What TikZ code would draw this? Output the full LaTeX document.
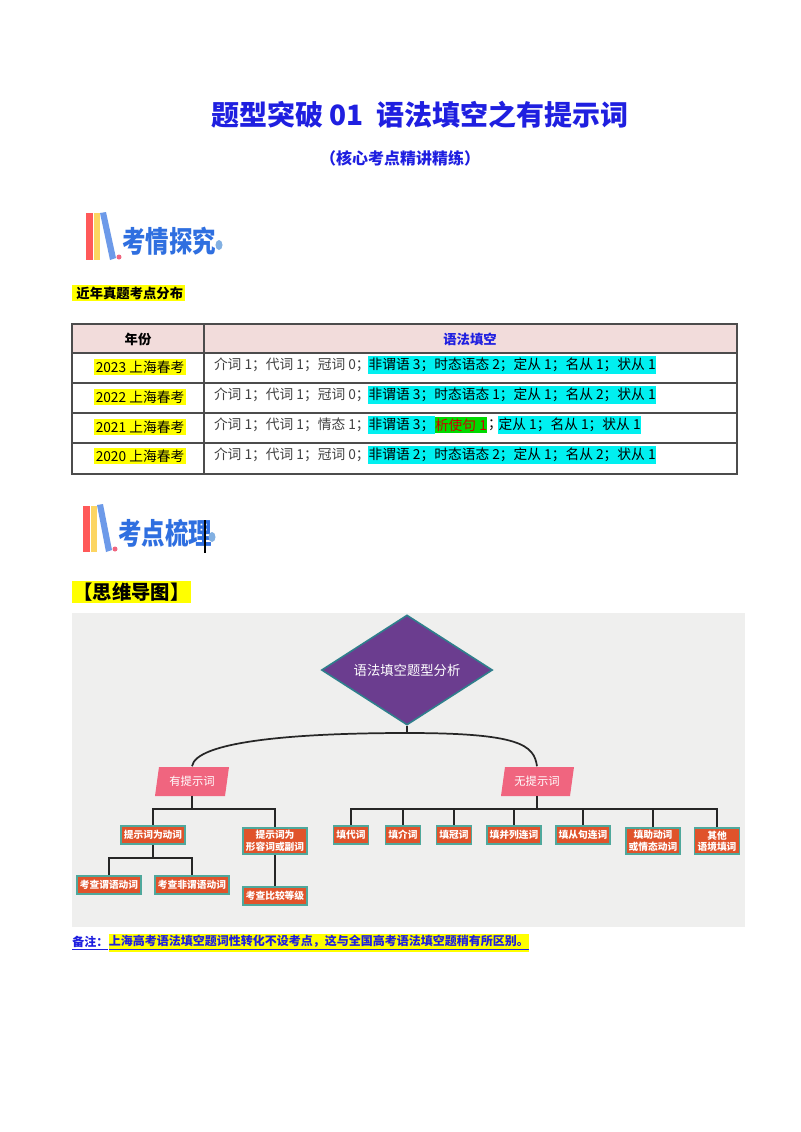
\documentclass[tikz,border=0pt]{standalone}
\usepackage{fontspec}
\setmainfont{Noto Sans CJK SC}
\usetikzlibrary{shapes.geometric}
\definecolor{tblue}{HTML}{1F1FE0}
\definecolor{hcyan}{HTML}{00F0F0}
\definecolor{hyel}{HTML}{FFFF00}
\definecolor{pinkhd}{HTML}{F2DCDB}
\definecolor{mmbg}{HTML}{EFEFEE}
\definecolor{boxor}{HTML}{E0532B}
\definecolor{boxed}{HTML}{4FA89C}
\definecolor{dpurp}{HTML}{6B3D8F}
\definecolor{dedge}{HTML}{2F7F8C}
\definecolor{pinkb}{HTML}{F0657F}
\definecolor{logob}{HTML}{2F6FE0}
\begin{document}
\begin{tikzpicture}[x=0.75pt,y=-0.75pt,
  tx/.style={inner sep=0pt,outer sep=0pt,anchor=west,font=\fontsize{10.3}{12}\selectfont},
  cy/.style={tx,fill=hcyan,inner xsep=0.5pt,inner ysep=1.5pt},
  yr/.style={inner sep=1pt,fill=hyel,font=\fontsize{10.3}{12}\selectfont},
  mb/.style={draw=boxed,line width=1.2pt,fill=boxor,text=white,font=\bfseries\fontsize{7.3}{8.5}\selectfont,align=center,inner sep=2.2pt,minimum height=18pt*0.75},
  pk/.style={text=white,font=\fontsize{8.5}{9}\selectfont,minimum width=62*0.75pt,minimum height=29*0.75pt,inner sep=0pt,
    append after command={\pgfextra{\let\pkn\tikzlastnode}
      \pgfextra{}}},
  ln/.style={line width=1.3pt,black!85}]
\useasboundingbox (0,0) rectangle (800,1132);
\fill[white] (0,0) rectangle (800,1132);
% title
\node[text=tblue,font=\bfseries\fontsize{21}{24}\selectfont] (title) at (420,115) {题型突破 01\ \ 语法填空之有提示词};
\node[text=tblue,font=\bfseries\fontsize{12}{14}\selectfont] (sub) at (400,158) {（核心考点精讲精练）};
% logo 1
\fill[red!65!white] (86,213) rectangle (93,260);
\fill[yellow!50!orange!60] (94,213) rectangle (100,260);
\fill[logob!70] (100,213) -- (106,212) -- (116,258) -- (110,260) -- cycle;
\fill[pinkb] (119,257) circle (2.5);
\node[text=logob,font=\bfseries\fontsize{22}{24}\selectfont,anchor=west,xscale=0.8,inner sep=0pt] (logo1) at (122,241) {考情探究};
\fill[cyan!60!blue!50] (219,245) ellipse (3.5 and 5);
\node[fill=hyel,anchor=west,font=\bfseries\fontsize{10}{12}\selectfont,inner sep=1.5pt] (h1) at (72,293) {\,近年真题考点分布};
% table
\fill[pinkhd] (72,324) rectangle (737,353);
\draw[line width=0.8pt,black!70] (72,324) rectangle (737,474);
\foreach \y in {353,383,413,443} \draw[line width=0.8pt,black!70] (72,\y) -- (737,\y);
\draw[line width=0.8pt,black!70] (204,324) -- (204,474);
\node[font=\bfseries\fontsize{10}{12}\selectfont] (th1) at (138,339) {年份};
\node[text=tblue,font=\bfseries\fontsize{10}{12}\selectfont] (th2) at (470,339) {语法填空};
\node[yr] (y1) at (140,367) {2023 上海春考};
\node[yr] (y2) at (140,397) {2022 上海春考};
\node[yr] (y3) at (140,427) {2021 上海春考};
\node[yr] (y4) at (140,456) {2020 上海春考};
\node[tx,text=black!75] (r1a) at (214,365) {介词 1；代词 1；冠词 0；};
\node[cy,anchor=west] (r1b) at (368,365) {非谓语 3；时态语态 2；定从 1；名从 1；状从 1};
\node[tx,text=black!75] (r2a) at (214,395) {介词 1；代词 1；冠词 0；};
\node[cy] (r2b) at (368,395) {非谓语 3；时态语态 1；定从 1；名从 2；状从 1};
\node[tx,text=black!75] (r3a) at (214,425) {介词 1；代词 1；情态 1；};
\node[cy] (r3b) at (368,425) {非谓语 3；};
\node[tx,fill=green!85!black,text=red!80!black,inner ysep=1.5pt] (r3c) at (435,425) {析使句 1};
\node[tx] (r3d) at ([xshift=1pt]r3c.east) {；};
\node[cy] (r3e) at (498,425) {定从 1；名从 1；状从 1};
\node[tx,text=black!75] (r4a) at (214,455) {介词 1；代词 1；冠词 0；};
\node[cy] (r4b) at (368,455) {非谓语 2；时态语态 2；定从 1；名从 2；状从 1};
% logo 2
\fill[red!65!white] (83,506) rectangle (90,552);
\fill[yellow!50!orange!60] (91,506) rectangle (97,552);
\fill[logob!70] (97,505) -- (103,504) -- (112,550) -- (106,552) -- cycle;
\fill[pinkb] (115,549) circle (2.5);
\node[text=logob,font=\bfseries\fontsize{22}{24}\selectfont,anchor=west,xscale=0.8,inner sep=0pt] (logo2) at (118,533) {考点梳理};
\draw[line width=0.8pt,black] (205,520) -- (205,553);
\fill[cyan!60!blue!50] (212,537) ellipse (3.5 and 5);
\node[fill=hyel,anchor=west,font=\bfseries\fontsize{14.5}{16}\selectfont,inner sep=1pt] (h2) at (72,592) {【思维导图】};
% mind map
\fill[mmbg] (72,613) rectangle (745,927);
\node[diamond,fill=dpurp,draw=dedge,line width=1.2pt,minimum width=171*0.75pt,minimum height=110*0.75pt,inner sep=0pt,aspect=1.55,text=white,font=\fontsize{10}{12}\selectfont] (root) at (407,670) {语法填空题型分析};
\fill[pinkb] (159,767) -- (229,767) -- (225,796) -- (155,796) -- cycle;
\fill[pinkb] (505,767) -- (574,767) -- (570,796) -- (501,796) -- cycle;
\node[pk] (L) at (192,781) {有提示词};
\node[pk] (R) at (537,781) {无提示词};
\coordinate (top) at (407,733);
\draw[ln] (root.south) -- (top);
\draw[ln] (L.north) .. controls (196,742) and (290,733) .. (top) .. controls (520,733) and (534,745) .. (R.north);
% left branch
\node[mb] (a1) at (153,835) {提示词为动词};
\node[mb] (a2) at (275,841) {提示词为\\形容词或副词};
\node[mb] (b1) at (109,885) {考查谓语动词};
\node[mb] (b2) at (192,885) {考查非谓语动词};
\node[mb] (b3) at (275,896) {考查比较等级};
\draw[ln] (L.south) -- (192,809) -| (a1.north);
\draw[ln] (192,809) -| (a2.north);
\draw[ln] (a1.south) -- (153,858) -| (b1.north);
\draw[ln] (153,858) -| (b2.north);
\draw[ln] (a2.south) -- (b3.north);
% right branch
\node[mb] (c1) at (351,835) {填代词};
\node[mb] (c2) at (403,835) {填介词};
\node[mb] (c3) at (454,835) {填冠词};
\node[mb] (c4) at (514,835) {填并列连词};
\node[mb] (c5) at (583,835) {填从句连词};
\node[mb] (c6) at (653,841) {填助动词\\或情态动词};
\node[mb] (c7) at (717,841) {其他\\语境填词};
\draw[ln] (R.south) -- (537,809);
\draw[ln] (c1.north) |- (c7.north |- 0,809) -- (c7.north);
\foreach \n in {c2,c3,c4,c5,c6} \draw[ln] (\n.north |- 0,809) -- (\n.north);
% note
\node[anchor=west,inner sep=0pt,text=tblue,font=\bfseries\fontsize{9}{11}\selectfont] (n1) at (72,943) {\underline{备注：}};
\node[anchor=west,inner xsep=0pt,inner ysep=1pt,fill=hyel,text=tblue,font=\bfseries\fontsize{9}{11}\selectfont] (n2) at (n1.east) {\underline{上海高考语法填空题词性转化不设考点，这与全国高考语法填空题稍有所区别。}};
\end{tikzpicture}
\end{document}
